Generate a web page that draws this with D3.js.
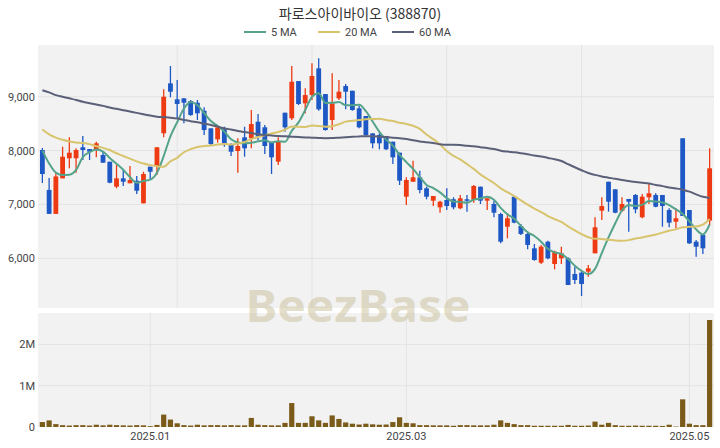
<!DOCTYPE html>
<html><head><meta charset="utf-8">
<script src="https://cdn.jsdelivr.net/npm/d3@7"></script>
<style>
body{margin:0;background:#fff;}
svg{display:block;font-family:Roboto,"Noto Sans CJK KR",sans-serif;}
</style></head><body>
<svg id="c" width="720" height="448"></svg>
<script>
const title = "파로스아이바이오 (388870)";
const dates = [
"2024-12-06","2024-12-09","2024-12-10","2024-12-11","2024-12-12","2024-12-13","2024-12-16","2024-12-17","2024-12-18","2024-12-19","2024-12-20","2024-12-23","2024-12-24","2024-12-26","2024-12-27","2024-12-30",
"2025-01-02","2025-01-03","2025-01-06","2025-01-07","2025-01-08","2025-01-09","2025-01-10","2025-01-13","2025-01-14","2025-01-15","2025-01-16","2025-01-17","2025-01-20","2025-01-21","2025-01-22","2025-01-23","2025-01-24","2025-01-31",
"2025-02-03","2025-02-04","2025-02-05","2025-02-06","2025-02-07","2025-02-10","2025-02-11","2025-02-12","2025-02-13","2025-02-14","2025-02-17","2025-02-18","2025-02-19","2025-02-20","2025-02-21","2025-02-24","2025-02-25","2025-02-26","2025-02-27","2025-02-28",
"2025-03-04","2025-03-05","2025-03-06","2025-03-07","2025-03-10","2025-03-11","2025-03-12","2025-03-13","2025-03-14","2025-03-17","2025-03-18","2025-03-19","2025-03-20","2025-03-21","2025-03-24","2025-03-25","2025-03-26","2025-03-27","2025-03-28","2025-03-31",
"2025-04-01","2025-04-02","2025-04-03","2025-04-04","2025-04-07","2025-04-08","2025-04-09","2025-04-10","2025-04-11","2025-04-14","2025-04-15","2025-04-16","2025-04-17","2025-04-18","2025-04-21","2025-04-22","2025-04-23","2025-04-24","2025-04-25","2025-04-28","2025-04-29","2025-04-30",
"2025-05-02","2025-05-07","2025-05-08","2025-05-09"];
const open = [8010,7270,6825,7485,7857,7857,8061,8029,8011,7918,7794,7330,7485,7393,7441,7021,7701,7701,8321,9248,
8952,8970,8920,8889,8740,8413,8209,8395,8104,7992,8246,8228,8536,8432,8146,7794,8703,8600,9290,8877,
9031,9527,9050,8568,8970,9198,9111,8785,8642,8320,8289,8271,8165,7961,7144,7422,7504,7300,7070,6947,
7083,7096,6929,7096,7083,7330,7070,7009,6823,6587,7144,6600,6452,6186,5919,6309,5895,6000,6000,5709,
5734,5752,6093,6884,7422,7281,6884,7102,7176,6762,7133,7176,7176,6897,6680,8228,6897,6309,6433,6699];
const high = [8048,7490,7580,8072,8246,8042,8271,8029,8165,7979,7794,7732,7640,7714,7528,7608,7701,8061,9137,9570,
9310,8970,8940,8939,8803,8413,8475,8443,8135,8228,8443,8753,8679,8475,8165,8246,8703,9570,9290,9155,
9620,9713,9050,9434,9310,9236,9111,8827,8642,8320,8320,8271,8165,7961,7504,7812,7627,7330,7157,7070,
7300,7133,7176,7176,7361,7330,7114,7070,6847,6836,7157,6637,6495,6266,6248,6327,6142,6216,6019,5845,
5752,5876,6762,7133,7422,7281,7133,7102,7194,7194,7380,7207,7176,6929,6929,8228,6897,6340,6433,8042];
const low = [7398,6825,6825,7485,7671,7590,7825,7825,7875,7775,7393,7300,7343,7393,7194,7021,7467,7547,8246,8989,
8600,8506,8647,8568,8289,8104,8146,8072,7900,7590,7886,8042,8196,7936,7565,7732,8350,8568,8846,8692,
8939,8740,8369,8382,8939,8766,8740,8413,8271,8042,8024,8011,7751,7361,6990,7422,7207,7096,6971,6847,
6897,6910,6910,6866,7033,7009,6897,6762,6279,6372,6650,6433,6168,5956,5895,5982,5796,5895,5505,5524,
5301,5659,6093,6712,6866,6836,6866,6495,6836,6743,7009,6947,6587,6576,6557,6786,6266,6030,6080,6619];
const close = [7565,6825,7520,7886,7961,8011,8011,7979,8135,7775,7404,7485,7422,7454,7255,7565,7608,8061,9000,9093,
8865,8889,8660,8692,8382,8122,8432,8135,7979,8085,8042,8493,8258,8085,7875,8165,8432,9278,8865,9031,
9384,8766,8382,8877,9093,9093,8753,8432,8289,8135,8135,8024,7875,7441,7454,7504,7268,7144,7157,7051,
6971,6947,7114,7070,7343,7070,7114,6847,6309,6743,6662,6452,6248,5969,6216,6000,6123,6093,5505,5598,
5524,5815,6576,6971,7051,6847,7009,7051,6910,7144,7207,6958,6971,6662,6743,6786,6279,6216,6186,7671];
const volume = [120000,160000,70000,45000,35000,45000,45000,35000,55000,40000,55000,45000,40000,35000,45000,40000,20000,50000,300000,180000,
90000,45000,35000,55000,40000,45000,45000,40000,45000,40000,40000,220000,55000,45000,40000,40000,100000,580000,100000,100000,
260000,160000,100000,280000,195000,110000,80000,60000,80000,65000,55000,60000,120000,235000,100000,90000,45000,45000,40000,40000,
40000,30000,45000,45000,40000,40000,40000,55000,160000,100000,70000,45000,45000,30000,30000,30000,30000,30000,50000,30000,
30000,35000,130000,55000,100000,45000,30000,30000,35000,30000,30000,30000,25000,55000,10000,670000,80000,45000,45000,2590000];
const ma5Head = [8000,7760,7590,7545];
const ma20Head = [8390,8300,8240,8200,8170,8150,8140,8120,8080,8050,8010,7950,7900,7850,7800,7760,7730,7710,7700];
const ma60Head = [9120,9080,9030,9000,8970,8940,8905,8880,8855,8830,8800,8775,8750,8725,8700,8675,8650,8630,8620,8610,
8595,8570,8545,8525,8500,8475,8445,8415,8390,8365,8345,8325,8305,8290,8280,8270,8265,8258,8252,8245,
8240,8235,8230,8232,8240,8248,8255,8262,8268,8265,8258,8250,8240,8228,8215,8190,8170,8155,8140];
const priceTicks = [6000,7000,8000,9000];
const volTicks = [0,1000000,2000000];
const volTickLabels = ["0","1M","2M"];
const monthTickDates = ["2025-01-02","2025-03-04","2025-05-02"];
const monthTickLabels = ["2025.01","2025.03","2025.05"];
const mainGridEvery = 20;
const maSpecs = [{n:5,label:"5 MA",color:"#54a38a",head:ma5Head},{n:20,label:"20 MA",color:"#d8c46c",head:ma20Head},{n:60,label:"60 MA",color:"#5b6079",head:ma60Head}];

const svg = d3.select("#c");
const L = 38, R = 714, mTop = 45, mBot = 308, vTop = 313, vBot = 427;
const idx = d3.range(dates.length);
const x = d3.scaleBand().domain(idx).range([L, R]).padding(0.3);
const cx = i => x(i) + x.bandwidth()/2;
const y = d3.scaleLinear().domain([5078, 9960]).range([mBot, mTop]);
const yv = d3.scaleLinear().domain([0, 2760000]).range([vBot, vTop]);
const up = "#ee3a12", down = "#1d58c5", gridC = "#e3e3e3";

// panels
svg.append("rect").attr("x",L).attr("y",mTop).attr("width",R-L).attr("height",mBot-mTop).attr("fill","#f2f2f2");
svg.append("rect").attr("x",L).attr("y",vTop).attr("width",R-L).attr("height",vBot-vTop).attr("fill","#f2f2f2");

// main grid
const gm = svg.append("g");
gm.selectAll("line.h").data(priceTicks).join("line").attr("x1",L).attr("x2",R)
  .attr("y1",d=>y(d)).attr("y2",d=>y(d)).attr("stroke",gridC).attr("stroke-width",1);
gm.selectAll("line.v").data(idx.filter(i=>i>0 && i%mainGridEvery===0)).join("line")
  .attr("x1",cx).attr("x2",cx).attr("y1",mTop).attr("y2",mBot).attr("stroke",gridC);
// volume grid
const monthIdx = monthTickDates.map(d=>dates.indexOf(d));
svg.append("g").selectAll("line").data(volTicks.slice(1)).join("line").attr("x1",L).attr("x2",R)
  .attr("y1",d=>yv(d)).attr("y2",d=>yv(d)).attr("stroke",gridC);
svg.append("g").selectAll("line").data(monthIdx).join("line")
  .attr("x1",cx).attr("x2",cx).attr("y1",vTop).attr("y2",vBot).attr("stroke",gridC);

// y labels
svg.append("g").selectAll("text").data(priceTicks).join("text")
  .attr("x",35).attr("y",d=>y(d)+4).attr("text-anchor","end").attr("font-size",11).attr("fill","#444")
  .text(d=>d3.format(",")(d));
svg.append("g").selectAll("text").data(volTicks).join("text")
  .attr("x",35).attr("y",d=>yv(d)+4).attr("text-anchor","end").attr("font-size",11).attr("fill","#444")
  .text((d,i)=>volTickLabels[i]);
// x labels
svg.append("g").selectAll("text").data(monthIdx).join("text")
  .attr("x",cx).attr("y",440).attr("text-anchor","middle").attr("font-size",11).attr("fill","#444")
  .text((d,i)=>monthTickLabels[i]);

// candles
const cg = svg.append("g");
const col = i => close[i] >= open[i] ? up : down;
cg.selectAll("line").data(idx).join("line")
  .attr("x1",cx).attr("x2",cx).attr("y1",i=>y(high[i])).attr("y2",i=>y(low[i]))
  .attr("stroke",col).attr("stroke-width",1.3);
cg.selectAll("rect").data(idx).join("rect")
  .attr("x",i=>cx(i)-2.4).attr("width",4.8)
  .attr("y",i=>y(Math.max(open[i],close[i])))
  .attr("height",i=>Math.max(1.5, Math.abs(y(open[i])-y(close[i]))))
  .attr("fill",col);

// moving averages
maSpecs.forEach(s=>{
  const vals = idx.map(i => i < s.n-1 ? s.head[i] : d3.mean(close.slice(i-s.n+1, i+1)));
  svg.append("path").datum(idx)
    .attr("d", d3.line().x(cx).y(i=>y(vals[i])).curve(d3.curveMonotoneX))
    .attr("fill","none").attr("stroke",s.color).attr("stroke-width",2);
});

// volume bars
svg.append("g").selectAll("rect").data(idx).join("rect")
  .attr("x",i=>cx(i)-2.6).attr("width",5.2)
  .attr("y",i=>yv(volume[i])).attr("height",i=>vBot-yv(volume[i]))
  .attr("fill","#7b5b1a");

// title & legend
svg.append("text").attr("x",360).attr("y",19).attr("text-anchor","middle")
  .attr("font-size",14).attr("fill","#333").attr("font-family","'Noto Sans CJK KR',sans-serif").text(title);
const legX = [244, 318, 392];
const lg = svg.append("g");
maSpecs.forEach((s,k)=>{
  lg.append("line").attr("x1",legX[k]).attr("x2",legX[k]+22).attr("y1",32).attr("y2",32)
    .attr("stroke",s.color).attr("stroke-width",2);
  lg.append("text").attr("x",legX[k]+27).attr("y",36).attr("font-size",11).attr("fill","#444").text(s.label);
});

// watermark
svg.append("text").attr("x",358).attr("y",322).attr("text-anchor","middle")
  .attr("font-size",44).attr("font-weight","bold").attr("font-family","'Noto Sans',sans-serif")
  .attr("textLength",225).attr("lengthAdjust","spacingAndGlyphs")
  .attr("fill","#c9bf98").attr("fill-opacity",0.5).text("BeezBase");
</script></body></html>
